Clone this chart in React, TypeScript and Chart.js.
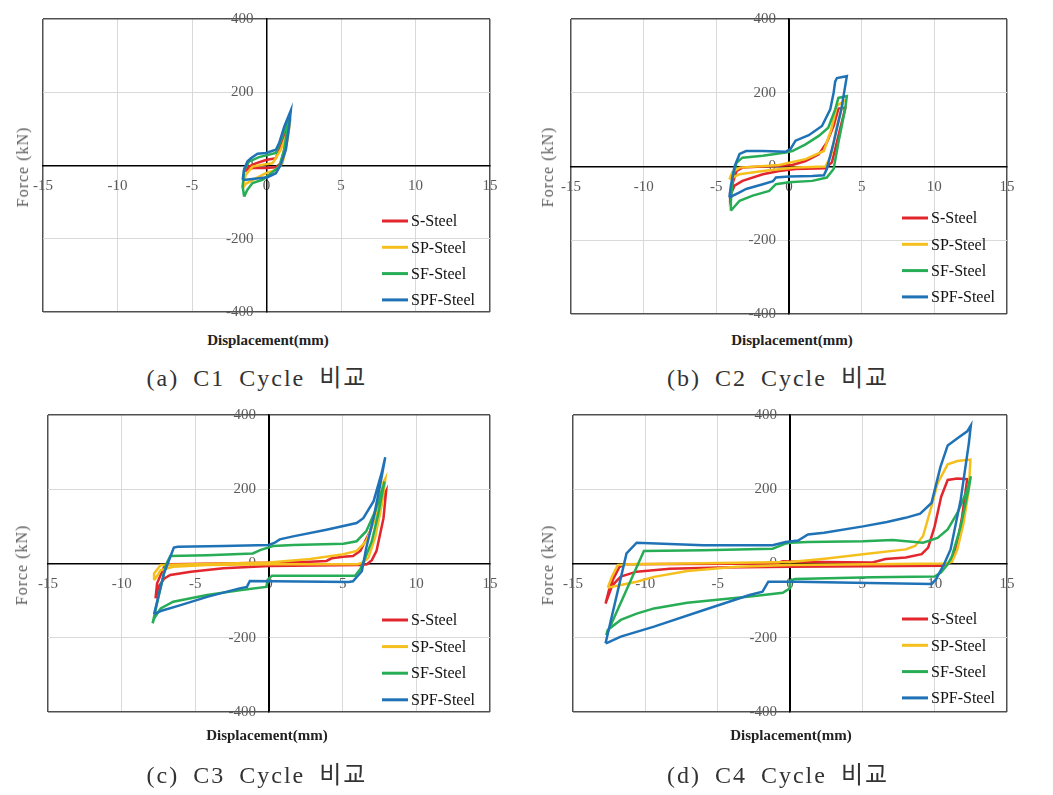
import React, { useEffect, useRef } from "react";
import { Chart, registerables } from "chart.js";

Chart.register(...registerables);

// ---------------- data (displacement mm, force kN) ----------------
const SERIES_LABELS = ["S-Steel", "SP-Steel", "SF-Steel", "SPF-Steel"];
const SERIES_COLORS = ["#e3262d", "#f5c01e", "#27ad55", "#1f72b6"];
const X_TICKS = [-15, -10, -5, 0, 5, 10, 15];
const Y_TICKS = [-400, -200, 0, 200, 400];

// C1 cycle
const C1_S = [[-1.5, -16], [-0.94, -7], [-0.04, -7], [0.63, -5], [0.96, 6], [1.3, 61], [1.41, 106], [1.07, 70], [0.63, 20], [-0.04, 15], [-0.72, 6], [-1.39, -7], [-1.5, -16]];
const C1_SP = [[-1.6, -62], [-1.39, -50], [-0.72, -35], [-0.04, -21], [0.63, -12], [1.07, 6], [1.41, 70], [1.52, 102], [0.96, 43], [0.4, 6], [-0.27, 2], [-0.94, -3], [-1.39, -25], [-1.6, -57], [-1.6, -62]];
const C1_SF = [[-1.5, -85], [-1.28, -66], [-0.94, -48], [-0.27, -39], [0.18, -25], [0.85, -3], [1.19, 43], [1.52, 134], [1.07, 79], [0.63, 34], [-0.5, 23], [-1.16, 11], [-1.5, -12], [-1.6, -57], [-1.5, -85]];
const C1_SPF = [[-1.6, -39], [-1.39, -39], [-0.5, -35], [0.07, -32], [0.63, -21], [0.96, 2], [1.3, 43], [1.52, 106], [1.63, 150], [1.19, 106], [0.85, 61], [0.63, 43], [-0.04, 34], [-0.6, 32], [-1.05, 20], [-1.28, 11], [-1.5, -10], [-1.6, -39]];

// C2 cycle
const C2_S = [[-4.05, -79], [-3.75, -52], [-3.2, -39], [-1.8, -21], [-0.68, -12], [0.45, -7], [2.5, -5], [2.95, 11], [3.4, 83], [3.88, 160], [3.4, 157], [3.07, 110], [2.6, 65], [2.05, 33], [1.14, 15], [0.23, 4], [-1.8, 0], [-3.2, -3], [-3.6, -12], [-3.86, -43], [-4.0, -70], [-4.05, -79]];
const C2_SP = [[-4.1, -35], [-3.4, -21], [-1.8, -12], [0.45, -3], [2.5, 0], [2.9, 30], [3.3, 110], [3.75, 176], [3.3, 165], [2.9, 100], [2.4, 42], [1.14, 20], [-0.68, 4], [-3.4, -3], [-3.9, -15], [-4.1, -35]];
const C2_SF = [[-4.0, -120], [-3.4, -93], [-2.5, -79], [-1.36, -66], [-0.9, -48], [0.0, -43], [1.6, -39], [2.6, -30], [3.07, -7], [3.4, 65], [3.86, 155], [3.98, 191], [3.4, 186], [3.18, 155], [2.7, 105], [2.05, 83], [1.14, 60], [0.23, 42], [-0.23, 38], [-1.8, 29], [-3.2, 24], [-3.6, 11], [-3.86, -25], [-4.0, -97], [-4.0, -120]];
const C2_SPF = [[-4.1, -84], [-3.4, -70], [-2.95, -61], [-1.8, -48], [-1.1, -40], [-0.9, -30], [0.0, -27], [1.6, -26], [2.4, -24], [2.6, -7], [3.07, 65], [3.6, 155], [3.98, 245], [3.3, 240], [3.18, 231], [3.07, 200], [2.84, 155], [2.27, 110], [1.36, 85], [0.45, 70], [0.11, 48], [-0.23, 40], [-1.8, 42], [-2.95, 42], [-3.4, 34], [-3.75, 0], [-4.0, -52], [-4.1, -84]];

// C3 cycle
const C3_S = [[-7.7, -94], [-7.6, -54], [-7.1, -7], [-6.7, -2], [0.0, 2], [2.8, 5], [3.9, 7], [4.25, 14], [5.05, 18], [5.7, 20], [6.2, 34], [6.86, 87], [7.4, 149], [7.95, 195], [7.77, 122], [7.3, 34], [6.98, 9], [6.64, -2], [6.2, -4], [0.0, -7], [-3.1, -13], [-5.3, -22], [-6.7, -31], [-7.1, -40], [-7.5, -63], [-7.7, -94]];
const C3_SP = [[-7.8, -45], [-7.8, -27], [-7.35, -4], [0.0, 3], [2.8, 12], [5.05, 25], [5.95, 34], [6.6, 60], [7.3, 131], [7.77, 219], [7.9, 229], [7.66, 158], [7.2, 69], [6.75, 16], [6.4, 3], [6.0, -2], [0.0, -2], [-4.2, -4], [-6.5, -9], [-7.35, -18], [-7.7, -40], [-7.8, -45]];
const C3_SF = [[-7.9, -161], [-7.5, -90], [-7.0, -4], [-6.7, 20], [-4.2, 22], [-1.1, 27], [-0.6, 36], [0.27, 47], [1.64, 50], [5.05, 53], [5.95, 60], [6.6, 87], [7.2, 140], [7.77, 210], [7.84, 221], [7.4, 131], [6.98, 60], [6.5, 12], [6.2, -15], [5.84, -33], [0.2, -33], [0.0, -40], [-0.2, -63], [-2.0, -72], [-4.2, -85], [-6.5, -103], [-7.35, -121], [-7.8, -148], [-7.9, -161]];
const C3_SPF = [[-7.8, -136], [-7.13, -27], [-6.46, 43], [-6.2, 45], [-3.1, 47], [0.0, 50], [0.39, 56], [0.73, 65], [1.64, 73], [3.9, 91], [5.95, 109], [6.4, 122], [7.1, 168], [7.66, 246], [7.89, 286], [7.55, 213], [7.1, 123], [6.6, 42], [6.3, -21], [5.7, -48], [5.4, -50], [-1.3, -47], [-1.5, -63], [-2.0, -67], [-4.2, -90], [-6.0, -112], [-7.35, -128], [-7.8, -136]];

// C4 cycle
const C4_S = [[-12.75, -108], [-12.5, -70], [-12.2, -40], [-11.8, -10], [-11.4, -2], [-1.0, 0], [-0.5, 6], [0.5, 5], [5.7, 3], [6.6, 12], [8.0, 16], [9.1, 25], [9.55, 43], [10.0, 100], [10.45, 180], [10.9, 225], [11.57, 229], [12.25, 227], [11.9, 127], [11.57, 56], [11.2, 12], [10.9, -2], [10.5, -6], [0.0, -9], [-4.85, -11], [-8.3, -14], [-10.6, -22], [-11.7, -35], [-12.3, -60], [-12.75, -108]];
const C4_SP = [[-12.6, -65], [-12.3, -35], [-11.9, -4], [-11.0, -2], [0.0, 4], [2.4, 13], [5.05, 25], [8.0, 38], [8.65, 47], [9.2, 74], [9.78, 154], [10.2, 216], [10.9, 267], [11.57, 276], [12.47, 280], [12.36, 198], [12.0, 109], [11.57, 38], [11.2, 5], [10.8, 0], [0.0, -4], [-3.7, -9], [-7.1, -20], [-9.4, -36], [-10.6, -49], [-11.7, -58], [-12.6, -65]];
const C4_SF = [[-12.7, -193], [-10.1, 34], [-6.0, 36], [-1.2, 40], [-0.27, 54], [0.0, 56], [1.24, 58], [5.05, 60], [7.1, 63], [9.2, 56], [10.2, 69], [10.9, 92], [11.57, 136], [12.25, 198], [12.5, 235], [12.36, 203], [11.8, 100], [11.2, 20], [10.9, -2], [10.45, -24], [10.0, -35], [5.7, -37], [0.34, -42], [0.0, -46], [0.0, -67], [-0.5, -79], [-2.6, -88], [-4.85, -97], [-7.1, -106], [-9.4, -121], [-10.6, -135], [-11.7, -152], [-12.6, -179], [-12.7, -193]];
const C4_SPF = [[-12.75, -215], [-11.3, 27], [-10.6, 56], [-6.0, 49], [-1.2, 49], [-0.3, 58], [0.56, 62], [1.24, 78], [2.36, 83], [5.05, 100], [6.7, 112], [7.98, 123], [9.0, 134], [9.78, 163], [10.4, 260], [10.9, 318], [11.6, 338], [12.25, 356], [12.5, 372], [12.36, 323], [11.8, 172], [11.1, 38], [10.67, 0], [10.1, -42], [9.8, -55], [4.4, -52], [0.5, -49], [-1.5, -49], [-1.9, -76], [-2.8, -85], [-6.0, -126], [-9.4, -170], [-11.7, -197], [-12.6, -213], [-12.75, -215]];

// ---------------- layout ----------------
type PanelCfg = {
  left: number; top: number; w: number; h: number;
  pad: { left: number; right: number; top: number; bottom: number };
  legend: { dx: number; dy: number; gap: number };
  xTitle: [number, number]; yTitle: [number, number]; capPos: [number, number];
  caption: string;
  series: number[][][];
};

const PANELS: PanelCfg[] = [
  {
    left: 0, top: 0, w: 520, h: 330,
    pad: { left: 43, right: 30, top: 19, bottom: 18 },
    legend: { dx: 108, dy: 91, gap: 26.3 },
    xTitle: [268, 340], yTitle: [23, 167], capPos: [257, 378],
    caption: "(a) C1 Cycle 비교",
    series: [C1_S, C1_SP, C1_SF, C1_SPF],
  },
  {
    left: 520, top: 0, w: 533, h: 330,
    pad: { left: 51, right: 46, top: 19, bottom: 16 },
    legend: { dx: 105, dy: 96, gap: 26.3 },
    xTitle: [792, 340], yTitle: [548, 167], capPos: [778, 378],
    caption: "(b) C2 Cycle 비교",
    series: [C2_S, C2_SP, C2_SF, C2_SPF],
  },
  {
    left: 0, top: 400, w: 520, h: 330,
    pad: { left: 48, right: 30, top: 15, bottom: 18 },
    legend: { dx: 108, dy: 92, gap: 26.6 },
    xTitle: [267, 735], yTitle: [22, 565], capPos: [257, 775],
    caption: "(c) C3 Cycle 비교",
    series: [C3_S, C3_SP, C3_SF, C3_SPF],
  },
  {
    left: 520, top: 400, w: 533, h: 330,
    pad: { left: 53, right: 46, top: 15, bottom: 18 },
    legend: { dx: 105, dy: 93, gap: 26.3 },
    xTitle: [791, 735], yTitle: [548, 565], capPos: [778, 775],
    caption: "(d) C4 Cycle 비교",
    series: [C4_S, C4_SP, C4_SF, C4_SPF],
  },
];

const FRAME = "#505050";
const GRID = "#d9d9d9";
const TICK_COLOR = "#5a5a5a";
const SERIF = "'Liberation Serif', 'Times New Roman', serif";

const insideLegend = {
  id: "insideLegend",
  afterDatasetsDraw(chart: any, _args: any, opts: any) {
    const { ctx, chartArea } = chart;
    const x0 = chartArea.right - opts.dx;
    ctx.save();
    chart.data.datasets.forEach((ds: any, i: number) => {
      const y = chartArea.bottom - opts.dy + i * opts.gap;
      ctx.strokeStyle = ds.borderColor;
      ctx.lineWidth = 3;
      ctx.beginPath();
      ctx.moveTo(x0, y);
      ctx.lineTo(x0 + 26, y);
      ctx.stroke();
      ctx.fillStyle = "#111";
      ctx.font = "16px 'Liberation Serif'";
      ctx.textBaseline = "middle";
      ctx.textAlign = "left";
      ctx.fillText(ds.label, x0 + 29, y + 1);
    });
    ctx.restore();
  },
};

function gridColor(edge: number) {
  return (c: any) => {
    const v = c.tick ? c.tick.value : null;
    if (v === edge || v === -edge) return FRAME;
    if (v === 0) return "#000";
    return GRID;
  };
}
function gridWidth(edge: number) {
  return (c: any) => {
    const v = c.tick ? c.tick.value : null;
    if (v === edge || v === -edge) return 1.5;
    return 1;
  };
}
// keep the plot area exactly where the layout padding puts it
function noScalePadding(scale: any) {
  scale.paddingTop = 0;
  scale.paddingBottom = 0;
  scale.paddingLeft = 0;
  scale.paddingRight = 0;
}

function Panel({ cfg }: { cfg: PanelCfg }) {
  const ref = useRef<HTMLCanvasElement>(null);
  useEffect(() => {
    if (!ref.current) return;
    const chart = new Chart(ref.current, {
      type: "scatter",
      data: {
        datasets: cfg.series.map((pts, i) => ({
          label: SERIES_LABELS[i],
          data: pts.map(([x, y]) => ({ x, y })),
          showLine: true,
          borderColor: SERIES_COLORS[i],
          backgroundColor: SERIES_COLORS[i],
          borderWidth: 2.5,
          pointRadius: 0,
          tension: 0,
          order: 3 - i,
        })),
      },
      options: {
        animation: false,
        responsive: false,
        layout: { padding: cfg.pad },
        plugins: {
          legend: { display: false },
          tooltip: { enabled: false },
          insideLegend: cfg.legend,
        } as any,
        scales: {
          x: {
            type: "linear",
            position: "center",
            min: -15,
            max: 15,
            afterBuildTicks: (axis: any) => {
              axis.ticks = X_TICKS.map((v) => ({ value: v }));
            },
            afterFit: noScalePadding,
            ticks: {
              autoSkip: false,
              maxRotation: 0,
              padding: 12,
              color: TICK_COLOR,
              font: { family: "Liberation Serif", size: 15 },
            },
            grid: { drawTicks: false, color: gridColor(15), lineWidth: gridWidth(15) },
            border: { display: true, color: "#000", width: 1.5 },
          },
          y: {
            type: "linear",
            position: "center",
            min: -400,
            max: 400,
            afterBuildTicks: (axis: any) => {
              axis.ticks = Y_TICKS.map((v) => ({ value: v }));
            },
            afterFit: noScalePadding,
            ticks: {
              autoSkip: false,
              padding: 13,
              color: TICK_COLOR,
              font: { family: "Liberation Serif", size: 15 },
            },
            grid: { drawTicks: false, color: gridColor(400), lineWidth: gridWidth(400) },
            border: { display: true, color: "#000", width: 1.5 },
          },
        },
      },
      plugins: [insideLegend],
    } as any);
    return () => chart.destroy();
  }, [cfg]);

  const center: React.CSSProperties = {
    position: "absolute",
    whiteSpace: "nowrap",
    lineHeight: 1,
    transform: "translate(-50%, -50%)",
  };

  return (
    <>
      <canvas
        ref={ref}
        width={cfg.w}
        height={cfg.h}
        style={{ position: "absolute", left: cfg.left, top: cfg.top }}
      />
      <div
        style={{
          ...center,
          left: cfg.xTitle[0],
          top: cfg.xTitle[1],
          fontFamily: SERIF,
          fontWeight: "bold",
          fontSize: 15,
          color: "#222",
        }}
      >
        Displacement(mm)
      </div>
      <div
        style={{
          ...center,
          left: cfg.yTitle[0],
          top: cfg.yTitle[1],
          transform: "translate(-50%, -50%) rotate(-90deg)",
          fontFamily: SERIF,
          fontSize: 16,
          letterSpacing: "1px",
          color: TICK_COLOR,
        }}
      >
        Force (kN)
      </div>
      <div
        style={{
          ...center,
          left: cfg.capPos[0],
          top: cfg.capPos[1],
          fontFamily: "'Liberation Serif', 'Noto Sans CJK KR', serif",
          fontSize: 24,
          letterSpacing: "2px",
          wordSpacing: "6px",
          color: "#333",
        }}
      >
        {cfg.caption}
      </div>
    </>
  );
}

export default function App() {
  return (
    <div
      style={{
        position: "absolute",
        left: 0,
        top: 0,
        width: 1053,
        height: 795,
        background: "#fff",
        overflow: "hidden",
      }}
    >
      {PANELS.map((p, i) => (
        <Panel key={i} cfg={p} />
      ))}
    </div>
  );
}
